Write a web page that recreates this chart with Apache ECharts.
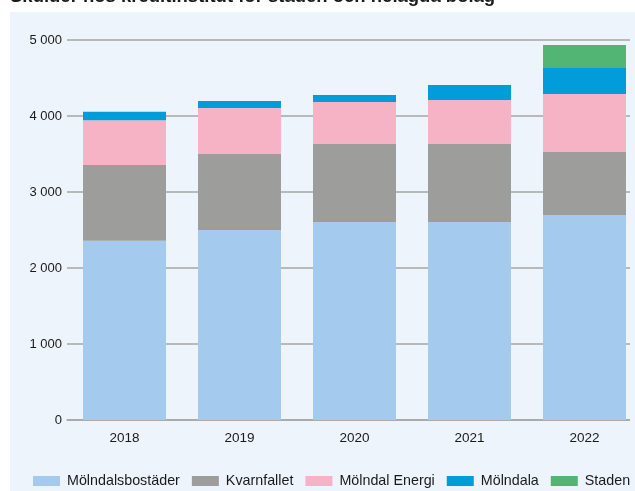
<!DOCTYPE html>
<html>
<head>
<meta charset="utf-8">
<script src="https://cdn.jsdelivr.net/npm/echarts@6/dist/echarts.min.js"></script>
<style>
html,body{margin:0;padding:0;background:#fff;overflow:hidden;}
#c{width:660px;height:491px;}
</style>
</head>
<body>
<div id="c"></div>
<script>
const title = 'Skulder hos kreditinstitut för staden och helägda bolag';
const years = ['2018', '2019', '2020', '2021', '2022'];
const seriesNames = ['Mölndalsbostäder', 'Kvarnfallet', 'Mölndal Energi', 'Mölndala', 'Staden'];
const molndalsbostader = [2360, 2500, 2605, 2605, 2697];
const kvarnfallet = [995, 1000, 1027, 1027, 829];
const molndalEnergi = [590, 605, 552, 579, 763];
const molndala = [110, 92, 92, 197, 343];
const staden = [0, 0, 0, 0, 302];
const yTicks = [0, 1000, 2000, 3000, 4000, 5000];

const colors = ['#A4CAEE', '#9D9D9B', '#F5B3C5', '#009DDA', '#52B574'];
const values = [molndalsbostader, kvarnfallet, molndalEnergi, molndala, staden];
const font = '"Liberation Sans", Arial, sans-serif';

const chart = echarts.init(document.getElementById('c'), null, {renderer: 'canvas'});
const fmt = v => String(v).replace(/\B(?=(\d{3})+(?!\d))/g, ' ');

chart.setOption({
  animation: false,
  color: colors,
  graphic: [
    {type: 'rect', z: -10, silent: true, shape: {x: 10, y: 12, width: 650, height: 479}, style: {fill: '#EEF4FC'}},
    {type: 'rect', z: 100, silent: true, shape: {x: 630, y: 12, width: 30, height: 420}, style: {fill: '#EEF4FC'}},
    {type: 'rect', z: 100, silent: true, shape: {x: 635, y: 0, width: 30, height: 491}, style: {fill: '#FFFFFF'}},
    {type: 'text', z: 100, silent: true, style: {x: 10, y: 6, text: title, fill: '#1a1a1a', font: 'bold 18.5px ' + font, verticalAlign: 'bottom'}}
  ],
  grid: {left: 67, top: 40, width: 575, height: 380, containLabel: false},
  legend: {
    top: 474, left: 33, padding: 0,
    itemWidth: 27, itemHeight: 10, itemGap: 12,
    textStyle: {fontFamily: font, fontSize: 14.3, color: '#1a1a1a', padding: [0, 0, 0, 2]},
    data: seriesNames,
    icon: 'rect'
  },
  xAxis: {
    type: 'category', data: years,
    axisTick: {show: false},
    axisLine: {show: true, lineStyle: {color: '#A6A6A6', width: 1.5}},
    axisLabel: {fontFamily: font, fontSize: 13.5, color: '#1a1a1a', margin: 11}
  },
  yAxis: {
    type: 'value', min: yTicks[0], max: yTicks[yTicks.length - 1], interval: 1000,
    axisLine: {show: false}, axisTick: {show: false},
    axisLabel: {fontFamily: font, fontSize: 13, color: '#1a1a1a', margin: 5, formatter: fmt},
    splitLine: {lineStyle: {color: '#A6A6A6', width: 1.5}}
  },
  series: seriesNames.map((n, i) => ({
    name: n, type: 'bar', stack: 'total', barWidth: 83,
    data: values[i], itemStyle: {color: colors[i]}
  }))
});
</script>
</body>
</html>
